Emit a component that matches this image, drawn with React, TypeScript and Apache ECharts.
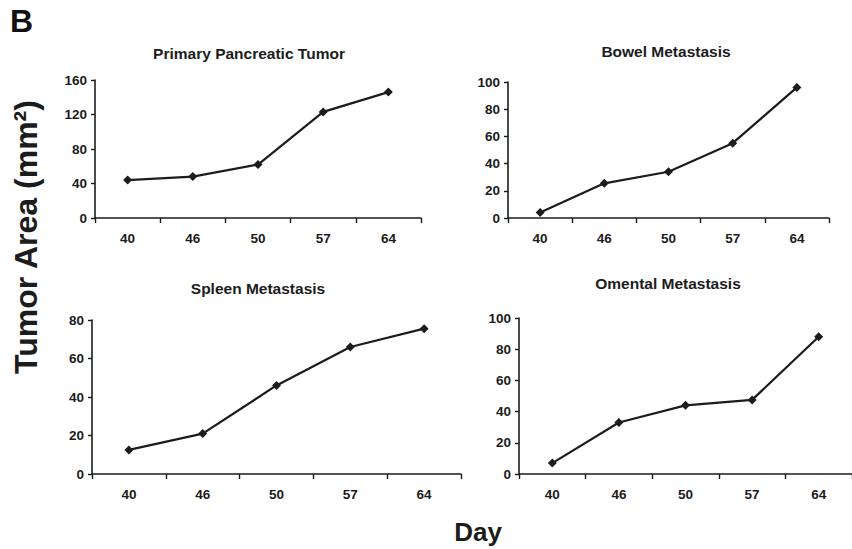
import React, { useEffect, useRef } from "react";
import * as echarts from "echarts";

const days = ["40", "46", "50", "57", "64"];
const primaryTumor = [44, 48, 62, 123, 146];
const bowelMet = [4, 25.5, 34, 55, 96];
const spleenMet = [12.5, 21, 46, 66, 75.5];
const omentalMet = [7, 33, 44, 47.5, 88];
const panelTitles = ["Primary Pancreatic Tumor", "Bowel Metastasis", "Spleen Metastasis", "Omental Metastasis"];
const yMax = [160, 100, 80, 100];
const yStep = [40, 20, 20, 20];

const FONT = "'Liberation Sans', Arial, Helvetica, sans-serif";
const INK = "#1c1c1c";

export default function App() {
  const ref = useRef<HTMLDivElement>(null);
  useEffect(() => {
    if (!ref.current) return;
    const chart = echarts.init(ref.current, undefined, { renderer: "svg" });
    const grids = [
      { left: 95, top: 80, width: 326, height: 138 },
      { left: 508, top: 82, width: 321, height: 136 },
      { left: 92, top: 320, width: 369, height: 154 },
      { left: 519, top: 318, width: 336, height: 156 },
    ];
    const seriesData = [primaryTumor, bowelMet, spleenMet, omentalMet];
    const titlePos = [
      [249, 53],
      [666, 51],
      [258, 288],
      [668, 283],
    ];
    const option: any = {
      animation: false,
      backgroundColor: "#ffffff",
      grid: grids.map((g) => ({ ...g, containLabel: false })),
      xAxis: grids.map((_, i) => ({
        type: "category",
        gridIndex: i,
        data: days,
        boundaryGap: true,
        axisLine: { show: true, lineStyle: { color: INK, width: 1.6 } },
        axisTick: { show: true, length: 5, lineStyle: { color: INK, width: 1.4 } },
        axisLabel: { color: INK, fontFamily: FONT, fontWeight: "bold", fontSize: 13.5, margin: 13 },
        splitLine: { show: false },
      })),
      yAxis: grids.map((_, i) => ({
        type: "value",
        gridIndex: i,
        min: 0,
        max: yMax[i],
        interval: yStep[i],
        axisLine: { show: true, lineStyle: { color: INK, width: 1.6 } },
        axisTick: { show: true, length: 4, lineStyle: { color: INK, width: 1.4 } },
        axisLabel: { color: INK, fontFamily: FONT, fontWeight: "bold", fontSize: 13.5, margin: 8 },
        splitLine: { show: false },
      })),
      series: seriesData.map((d, i) => ({
        type: "line",
        xAxisIndex: i,
        yAxisIndex: i,
        data: d,
        symbol: "diamond",
        symbolSize: 9,
        lineStyle: { color: INK, width: 2.2 },
        itemStyle: { color: INK },
      })),
      graphic: [
        ...panelTitles.map((t, i) => ({
          type: "text",
          x: titlePos[i][0],
          y: titlePos[i][1],
          style: {
            text: t,
            fontFamily: FONT,
            fontWeight: "bold",
            fontSize: 15.5,
            fill: INK,
            textAlign: "center",
            textVerticalAlign: "middle",
          },
        })),
        {
          type: "text",
          x: 10,
          y: 5,
          style: { text: "B", fontFamily: FONT, fontWeight: "bold", fontSize: 32, fill: "#111", textAlign: "left", textVerticalAlign: "top" },
        },
        {
          type: "text",
          x: 26,
          y: 237,
          rotation: Math.PI / 2,
          style: {
            text: "Tumor Area (mm²)",
            fontFamily: FONT,
            fontWeight: "bold",
            fontSize: 32,
            fill: INK,
            textAlign: "center",
            textVerticalAlign: "middle",
          },
        },
        {
          type: "text",
          x: 478,
          y: 532,
          style: { text: "Day", fontFamily: FONT, fontWeight: "bold", fontSize: 26, fill: INK, textAlign: "center", textVerticalAlign: "middle" },
        },
      ],
    };
    chart.setOption(option);
    return () => chart.dispose();
  }, []);
  return <div ref={ref} style={{ position: "absolute", left: 0, top: 0, width: 852, height: 549 }} />;
}
